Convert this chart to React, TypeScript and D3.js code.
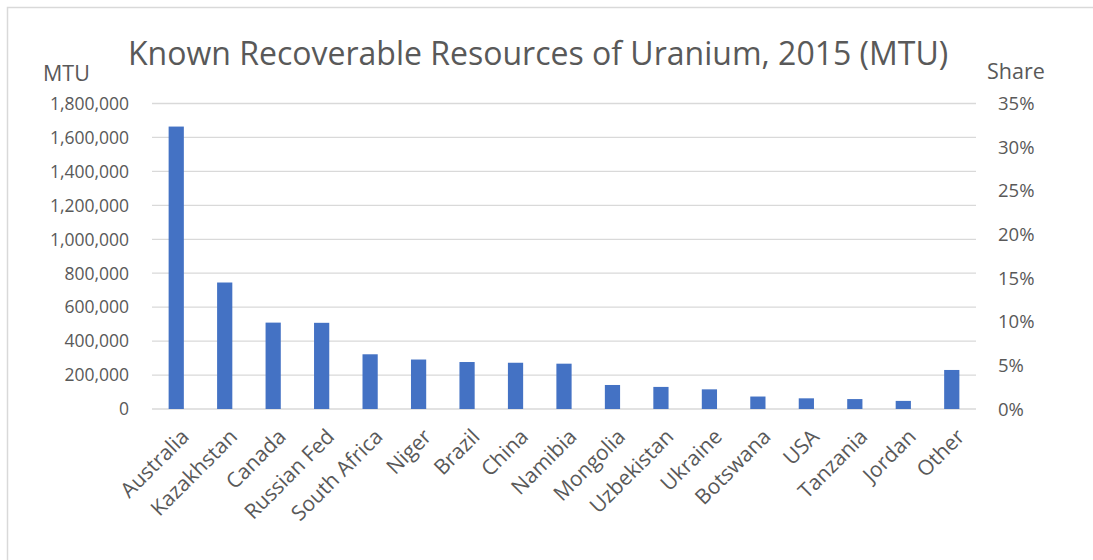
import React, { useEffect, useRef } from "react";
import * as d3 from "d3";

const categories = [
  "Australia", "Kazakhstan", "Canada", "Russian Fed", "South Africa", "Niger",
  "Brazil", "China", "Namibia", "Mongolia", "Uzbekistan", "Ukraine",
  "Botswana", "USA", "Tanzania", "Jordan", "Other",
];
const resources = [
  1664100, 745300, 509000, 507800, 322400, 291500, 276800, 272500, 267000,
  141500, 130100, 115800, 73500, 62900, 58500, 47700, 230000,
];
const leftTicks = [0, 200000, 400000, 600000, 800000, 1000000, 1200000, 1400000, 1600000, 1800000];
const rightTicks = [0, 0.05, 0.1, 0.15, 0.2, 0.25, 0.3, 0.35];

const title = "Known Recoverable Resources of Uranium, 2015 (MTU)";
const leftTitle = "MTU";
const rightTitle = "Share";

const W = 1093;
const H = 560;
const FONT = "'Open Sans', sans-serif";
const TEXT = "#595959";

export default function App() {
  const ref = useRef<SVGSVGElement>(null);

  useEffect(() => {
    const svg = d3.select(ref.current);
    svg.selectAll("*").remove();

    const plot = { left: 152, right: 976, top: 103.5, bottom: 409 };

    // chart area frame
    svg.append("rect")
      .attr("x", 7.5).attr("y", 7.5)
      .attr("width", W + 20).attr("height", H + 20)
      .attr("fill", "#fff").attr("stroke", "#d9d9d9").attr("stroke-width", 1.5);

    const x = d3.scaleBand<string>()
      .domain(categories)
      .range([plot.left, plot.right])
      .paddingInner(0.686)
      .paddingOuter(0.343);
    const y = d3.scaleLinear().domain([0, 1800000]).range([plot.bottom, plot.top]);
    const yShare = d3.scaleLinear().domain([0, 0.35]).range([plot.bottom, plot.top]);

    // gridlines
    svg.append("g").selectAll("line")
      .data(leftTicks)
      .join("line")
      .attr("x1", plot.left).attr("x2", plot.right)
      .attr("y1", (d) => y(d)).attr("y2", (d) => y(d))
      .attr("stroke", "#d9d9d9").attr("stroke-width", 1.3);

    // bars
    svg.append("g").selectAll("rect")
      .data(resources)
      .join("rect")
      .attr("x", (_, i) => x(categories[i])!)
      .attr("width", x.bandwidth())
      .attr("y", (d) => y(d))
      .attr("height", (d) => y(0) - y(d))
      .attr("fill", "#4472c4");

    const fmt = d3.format(",");
    // left axis labels
    svg.append("g").selectAll("text")
      .data(leftTicks)
      .join("text")
      .attr("x", 129).attr("y", (d) => y(d))
      .attr("dy", "0.36em")
      .attr("text-anchor", "end")
      .attr("font-family", FONT).attr("font-size", 17.5).attr("fill", TEXT)
      .text((d) => fmt(d));

    // right axis labels
    svg.append("g").selectAll("text")
      .data(rightTicks)
      .join("text")
      .attr("x", 998).attr("y", (d) => yShare(d))
      .attr("dy", "0.36em")
      .attr("text-anchor", "start")
      .attr("font-family", FONT).attr("font-size", 18.5).attr("fill", TEXT)
      .text((d) => d3.format(".0%")(d));

    // category labels
    svg.append("g").selectAll("text")
      .data(categories)
      .join("text")
      .attr("transform", (d) => `translate(${x(d)! + x.bandwidth() / 2 + 14},${plot.bottom + 29}) rotate(-45)`)
      .attr("text-anchor", "end")
      .attr("font-family", FONT).attr("font-size", 21).attr("fill", TEXT)
      .text((d) => d);

    svg.append("text")
      .attr("x", 128).attr("y", 65)
      .attr("font-family", FONT).attr("font-size", 32).attr("fill", TEXT)
      .text(title);
    svg.append("text")
      .attr("x", 43).attr("y", 81)
      .attr("font-family", FONT).attr("font-size", 21.5).attr("fill", TEXT)
      .text(leftTitle);
    svg.append("text")
      .attr("x", 987).attr("y", 79)
      .attr("font-family", FONT).attr("font-size", 21.5).attr("fill", TEXT)
      .text(rightTitle);
  }, []);

  return (
    <svg
      ref={ref}
      width={W}
      height={H}
      style={{ position: "absolute", left: 0, top: 0, background: "#fff" }}
    />
  );
}
